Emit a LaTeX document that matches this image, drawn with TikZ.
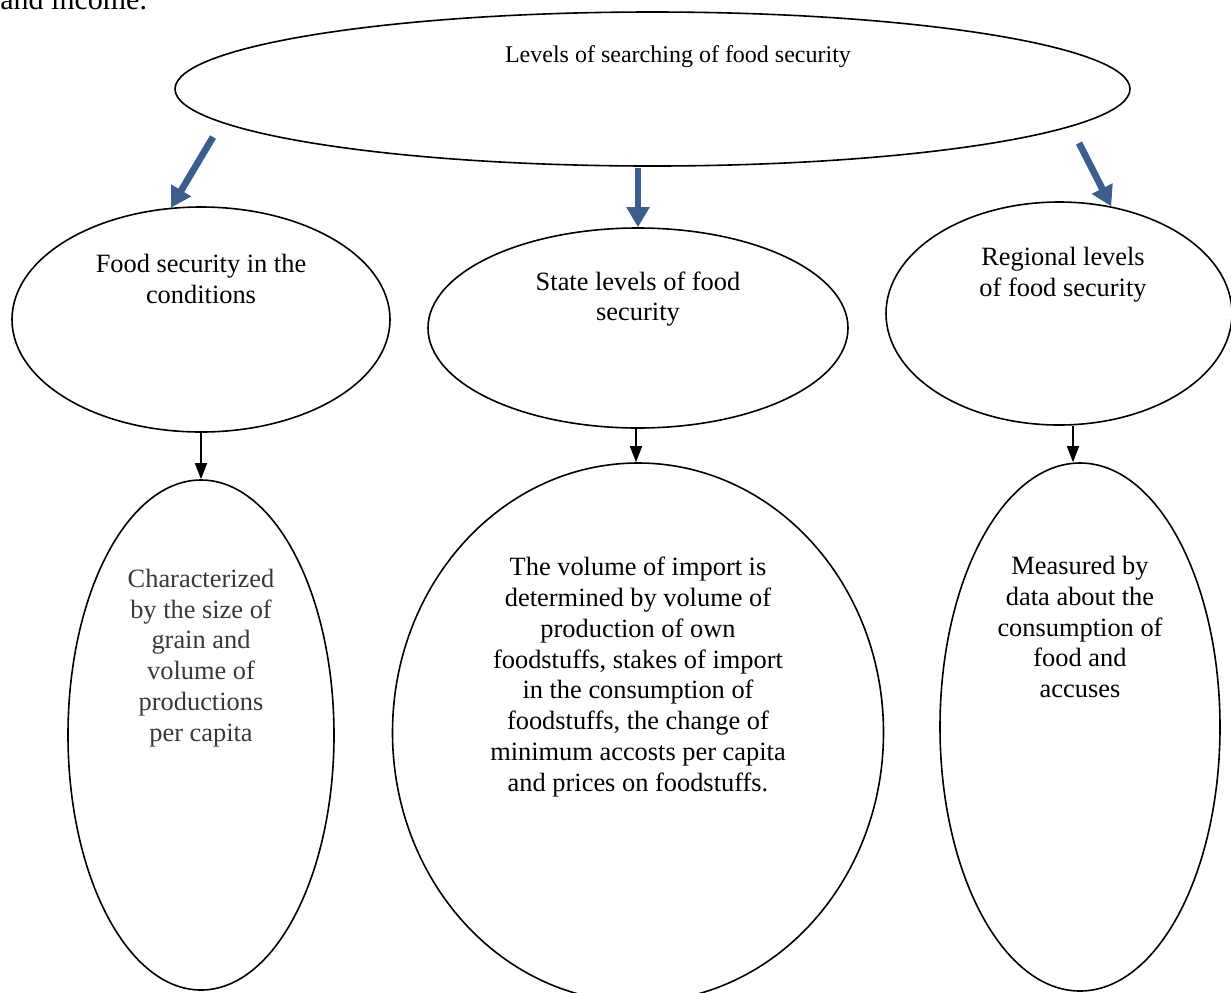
\documentclass[tikz,border=0pt]{standalone}
\usepackage{fontspec}
\setmainfont{Liberation Serif}
\usetikzlibrary{shapes.geometric,arrows.meta}
\definecolor{arrowblue}{RGB}{59,94,140}
\begin{document}
\begin{tikzpicture}[x=.5pt,y=-.5pt,
	oval/.style={draw,ellipse,line width=.8pt,inner sep=0pt},
	bluearrow/.style={arrowblue,line width=3.4pt,-{Triangle[width=11pt,length=10pt]}},
	blackarrow/.style={line width=.8pt,-{Triangle[width=6pt,length=8pt]}},
	txt/.style={align=center,font=\fontsize{13.2}{15.4}\selectfont}]
	\useasboundingbox (0,0) rectangle (1231,992);
	\clip (0,0) rectangle (1231,992);

	\node[anchor=base west,inner sep=0pt,font=\fontsize{15}{18}\selectfont] (prevtext) at (0,9) {and income.};

	\begin{scope}
		\node[oval,minimum width=477.5pt,minimum height=77pt] (top) at (652.5,89) {};
		\node[oval,minimum width=189pt,minimum height=112.5pt] (lm) at (201,319.5) {};
		\node[oval,minimum width=210pt,minimum height=100pt] (cm) at (638,328) {};
		\node[oval,minimum width=173pt,minimum height=111.5pt] (rm) at (1059,313.5) {};
		\node[oval,minimum width=133pt,minimum height=255pt] (lb) at (201,735) {};
		\node[oval,minimum width=245.5pt,minimum height=269.5pt] (cb) at (638,732.5) {};
		\node[oval,minimum width=140pt,minimum height=264pt] (rb) at (1080,727) {};
	\end{scope}

	\begin{scope}
		\node[align=center,font=\fontsize{12}{14}\selectfont] (toptext) at (678,57) {Levels of searching of food security};
		\node[txt] (lmtext) at (201,279) {Food security in the\\conditions};
		\node[txt] (cmtext) at (638,299) {State levels of food\\security};
		\node[txt] (rmtext) at (1063,275) {Regional levels\\of food security};
		\node[txt,text=black!78] (lbtext) at (201,658) {Characterized\\by the size of\\grain and\\volume of\\productions\\per capita};
		\node[txt] (cbtext) at (638,677) {The volume of import is\\determined by volume of\\production of own\\foodstuffs, stakes of import\\in the consumption of\\foodstuffs, the change of\\minimum accosts per capita\\and prices on foodstuffs.};
		\node[txt] (rbtext) at (1080,627) {Measured by\\data about the\\consumption of\\food and\\accuses};
	\end{scope}

	\coordinate (lt) at (213,137);
	\coordinate (ct) at (638,168);
	\coordinate (rt) at (1079,143);
	\coordinate (rx) at (1073,0);

	\draw[bluearrow] (lt) -- (lm.105);
	\draw[bluearrow] (ct) -- (cm.north);
	\draw[bluearrow] (rt) -- (rm.64);

	\draw[blackarrow] (lm.south) -- (lb.north);
	\draw[blackarrow] ([xshift=-1pt]cm.south) -- ([xshift=-1pt]cb.north);
	\draw[blackarrow] (rm.south -| rx) -- (rb.north -| rx);

\end{tikzpicture}
\end{document}
